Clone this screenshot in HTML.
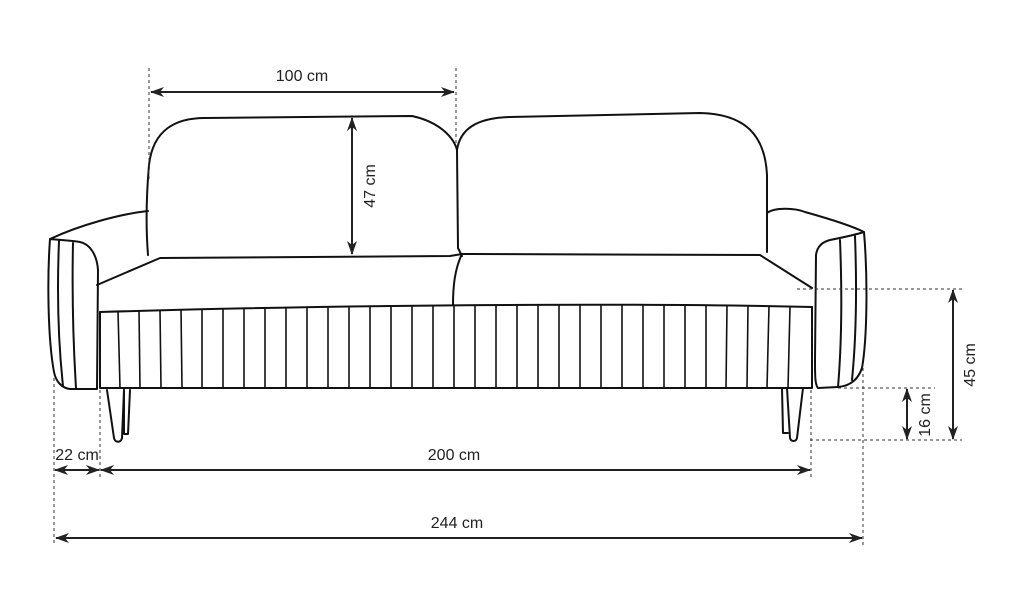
<!DOCTYPE html>
<html><head><style>
html,body{margin:0;padding:0;background:#fff;}
svg{display:block;}
text{font-family:"Liberation Sans",sans-serif;font-size:16px;fill:#222;}
</style></head><body>
<svg width="1021" height="600" viewBox="0 0 1021 600" xmlns="http://www.w3.org/2000/svg">
<defs>
<marker id="a" viewBox="0 0 14 10" refX="13" refY="5" markerWidth="14" markerHeight="10" markerUnits="userSpaceOnUse" orient="auto-start-reverse">
<path d="M0,0 L14,5 L0,10 L4,5 Z" fill="#222"/>
</marker>
</defs>
<g fill="none" stroke="#111" stroke-width="2" stroke-linejoin="round" stroke-linecap="round">
<path d="M148,255 C146,230 146,200 149,165 C153,130 175,118 205,118 L412,116 C440,122 454,138 457,150 L458,248 L462,256"/>
<path d="M457,150 C460,130 475,118 510,117 L700,113 C745,114 765,135 767,175 L767,252"/>
<path d="M97,285 L160,258 L450,256 L462,254 L470,254 L760,255 L812,288"/>
<path d="M461,256 C455,270 453,285 453,305"/>
<path d="M100,312 C300,306 600,302 812,307"/>
<path d="M100,312 L100,388 L812,388 L812,307"/>
<path d="M148,211 C120,214 80,225 50,239 C47,280 48,340 54,372 C56,382 62,388 70,389 L97,389 L98,270 C97,255 90,244 80,242 C68,240 58,240 50,239"/>
<path d="M59,241 C57,290 58,340 63,386"/>
<path d="M73,243 C72,290 73,340 76,388"/>
<path d="M767,213 C775,207 795,208 805,212 C830,219 852,226 864,232 C868,280 867,340 862,368 C858,380 850,386 838,387 L818,388 C815,385 815,375 815,360 L816,255 C817,247 822,242 830,240 C845,237 858,234 864,232"/>
<path d="M840,240 C842,290 842,340 838,387"/>
<path d="M855,236 C857,290 856,340 852,380"/>
<path d="M107,390 L114,438 C115,443 121,443 122,438 L124,390"/>
<path d="M124,390 L124,434 L128,434 L130,390"/>
<path d="M782,388 L783,433 L788,433"/>
<path d="M787,388 L790,438 C791,442 796,442 797,438 L803,388"/>
</g>
<g stroke="#111" stroke-width="1.6">
<line x1="118" y1="311" x2="120" y2="388"/><line x1="139" y1="310" x2="140" y2="388"/>
<line x1="160" y1="310" x2="161" y2="388"/><line x1="181" y1="309" x2="182" y2="388"/>
<line x1="202" y1="309" x2="202" y2="388"/><line x1="223" y1="308" x2="223" y2="388"/>
<line x1="244" y1="308" x2="244" y2="388"/><line x1="265" y1="308" x2="265" y2="388"/>
<line x1="286" y1="307" x2="286" y2="388"/><line x1="307" y1="307" x2="307" y2="388"/>
<line x1="328" y1="307" x2="328" y2="388"/><line x1="349" y1="306" x2="349" y2="388"/>
<line x1="370" y1="306" x2="370" y2="388"/><line x1="391" y1="306" x2="391" y2="388"/>
<line x1="412" y1="306" x2="412" y2="388"/><line x1="433" y1="305" x2="433" y2="388"/>
<line x1="454" y1="305" x2="454" y2="388"/><line x1="475" y1="305" x2="475" y2="388"/>
<line x1="496" y1="305" x2="496" y2="388"/><line x1="517" y1="305" x2="517" y2="388"/>
<line x1="538" y1="305" x2="538" y2="388"/><line x1="559" y1="305" x2="559" y2="388"/>
<line x1="580" y1="305" x2="580" y2="388"/><line x1="601" y1="305" x2="601" y2="388"/>
<line x1="622" y1="305" x2="622" y2="388"/><line x1="643" y1="305" x2="643" y2="388"/>
<line x1="664" y1="305" x2="664" y2="388"/><line x1="685" y1="305" x2="685" y2="388"/>
<line x1="706" y1="306" x2="706" y2="388"/><line x1="727" y1="306" x2="726" y2="388"/>
<line x1="748" y1="306" x2="747" y2="388"/><line x1="769" y1="306" x2="767" y2="388"/>
<line x1="790" y1="307" x2="788" y2="388"/>
</g>
<g stroke="#333" stroke-width="1" stroke-dasharray="3,3" fill="none">
<line x1="149" y1="68" x2="149" y2="180"/>
<line x1="456" y1="68" x2="456" y2="145"/>
<line x1="54" y1="378" x2="54" y2="546"/>
<line x1="100" y1="390" x2="100" y2="478"/>
<line x1="811" y1="390" x2="811" y2="478"/>
<line x1="863" y1="368" x2="863" y2="546"/>
<line x1="797" y1="289" x2="962" y2="289"/>
<line x1="810" y1="440" x2="962" y2="440"/>
<line x1="838" y1="388" x2="935" y2="388"/>
</g>
<g stroke="#222" stroke-width="2" fill="none">
<line x1="151" y1="92" x2="454" y2="92" marker-start="url(#a)" marker-end="url(#a)"/>
<line x1="352" y1="118" x2="352" y2="254" marker-start="url(#a)" marker-end="url(#a)"/>
<line x1="55" y1="470" x2="99" y2="470" marker-start="url(#a)" marker-end="url(#a)"/>
<line x1="101" y1="470" x2="810" y2="470" marker-start="url(#a)" marker-end="url(#a)"/>
<line x1="56" y1="538" x2="862" y2="538" marker-start="url(#a)" marker-end="url(#a)"/>
<line x1="953" y1="290" x2="953" y2="439" marker-start="url(#a)" marker-end="url(#a)"/>
<line x1="907" y1="389" x2="907" y2="439" marker-start="url(#a)" marker-end="url(#a)"/>
</g>
<text x="302" y="81" text-anchor="middle">100 cm</text>
<text x="454" y="460" text-anchor="middle">200 cm</text>
<text x="457" y="528" text-anchor="middle">244 cm</text>
<text x="77" y="460" text-anchor="middle">22 cm</text>
<text transform="translate(375,186) rotate(-90)" text-anchor="middle">47 cm</text>
<text transform="translate(975,365) rotate(-90)" text-anchor="middle">45 cm</text>
<text transform="translate(930,415) rotate(-90)" text-anchor="middle">16 cm</text>
</svg>
</body></html>
